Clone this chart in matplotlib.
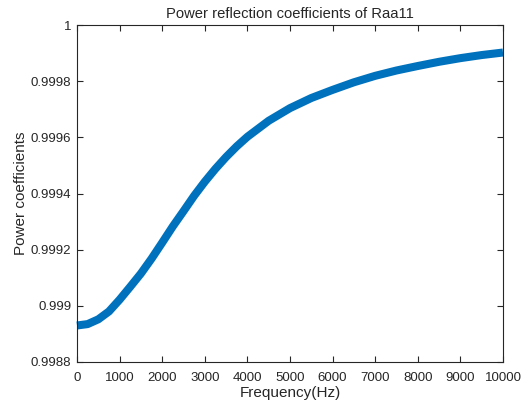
import matplotlib
matplotlib.use("Agg")
import matplotlib.pyplot as plt
from matplotlib.ticker import FormatStrFormatter

freq_hz = [0, 250, 500, 750, 1000, 1250, 1500, 1750, 2000, 2250, 2500,
           2750, 3000, 3250, 3500, 3750, 4000, 4500, 5000, 5500, 6000,
           6500, 7000, 7500, 8000, 8500, 9000, 9500, 10000]
power_coef = [0.998930, 0.998935, 0.998952, 0.998980, 0.999022, 0.999068,
              0.999115, 0.999168, 0.999225, 0.999283, 0.999337, 0.999392,
              0.999442, 0.999488, 0.999530, 0.999568, 0.999602, 0.999659,
              0.999704, 0.999740, 0.999769, 0.999796, 0.999819, 0.999838,
              0.999854, 0.999869, 0.999882, 0.999893, 0.999902]
x_ticks = [0, 1000, 2000, 3000, 4000, 5000, 6000, 7000, 8000, 9000, 10000]
y_ticks = [0.9988, 0.999, 0.9992, 0.9994, 0.9996, 0.9998, 1.0]

plt.rcParams['font.family'] = ['Liberation Sans', 'DejaVu Sans']
txt = '#262626'

fig = plt.figure(figsize=(5.22, 4.05), dpi=100)
ax = fig.add_axes([77/522, 1-362/405, (503-77)/522, (362-25)/405])
ax.plot(freq_hz, power_coef, color='#0072BD', linewidth=5.8, solid_capstyle='butt',
        solid_joinstyle='round', clip_on=False)
ax.set_xlim(0, 10000)
ax.set_ylim(0.9988, 1.0)
ax.set_xticks(x_ticks)
ax.set_yticks(y_ticks)
ax.yaxis.set_major_formatter(FormatStrFormatter('%g'))
ax.xaxis.set_major_formatter(FormatStrFormatter('%g'))
ax.tick_params(direction='in', top=True, right=True, length=4, width=0.8,
               colors=txt, labelsize=9.5, labelcolor=txt)
ax.tick_params(axis='x', pad=7)
ax.tick_params(axis='y', pad=4)
for s in ax.spines.values():
    s.set_color(txt)
    s.set_linewidth(0.8)
ax.set_xlabel('Frequency(Hz)', fontsize=11, color=txt, labelpad=2)
ax.set_ylabel('Power coefficients', fontsize=11, color=txt, labelpad=2)
ax.set_title('Power reflection coefficients of Raa11', fontsize=10.6, color=txt, pad=5)
fig.savefig('out.png', dpi=100)
